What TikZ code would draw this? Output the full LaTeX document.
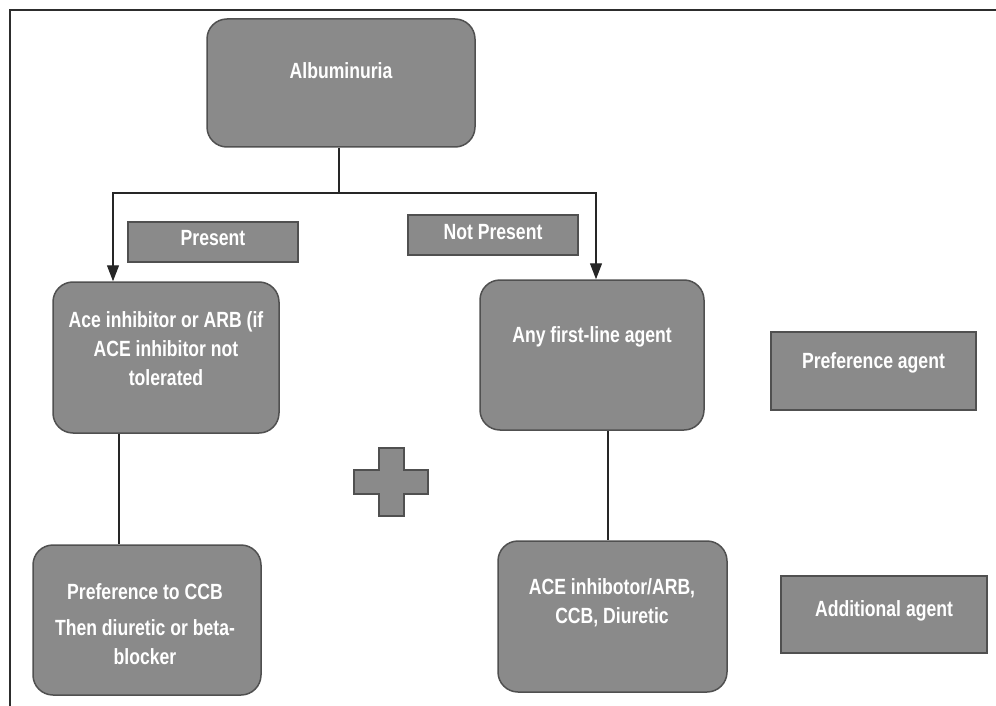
\documentclass[tikz,border=0pt]{standalone}
\usepackage{fontspec}
\setmainfont{Liberation Sans}[FakeStretch=0.8]
\usetikzlibrary{arrows.meta}
\definecolor{boxfill}{RGB}{138,138,138}
\definecolor{boxline}{RGB}{80,80,80}
\definecolor{frameline}{RGB}{45,45,45}
\tikzset{
  rbox/.style={draw=boxline, fill=boxfill, line width=1.5pt, rounded corners=20pt, inner sep=0pt},
  sbox/.style={draw=boxline, fill=boxfill, line width=1.5pt, inner sep=0pt},
  txt/.style={text=white, font=\bfseries\fontsize{22}{29}\selectfont, align=center, inner sep=0pt},
  conn/.style={draw=black!85, line width=1.3pt},
  arr/.style={conn, -{Triangle[length=16pt,width=12pt]}}
}
\begin{document}
\begin{tikzpicture}[x=1pt,y=-1pt]
\useasboundingbox (0,0) rectangle (996,706);
% frame
\draw[frameline, line width=1.6pt] (10,706) -- (10,10) -- (996,10);
% boxes
\node[rbox, minimum width=268pt, minimum height=128pt] (alb) at (341,83) {};
\node[sbox, minimum width=170pt, minimum height=40pt] (pres) at (213,242) {};
\node[sbox, minimum width=170pt, minimum height=40pt] (npres) at (493,235) {};
\node[rbox, minimum width=226pt, minimum height=151pt] (ace) at (166,357.5) {};
\node[rbox, minimum width=224pt, minimum height=150pt] (any) at (592,355) {};
\node[sbox, minimum width=205pt, minimum height=78pt] (prefag) at (873.5,371) {};
\node[rbox, minimum width=228pt, minimum height=150pt] (ccb) at (147,620) {};
\node[rbox, minimum width=229pt, minimum height=151pt] (acearb) at (612.5,616.5) {};
\node[sbox, minimum width=206pt, minimum height=77pt] (addag) at (884,614.5) {};
% plus sign
\draw[boxline, fill=boxfill, line width=1.3pt]
  (379,448) -- (404,448) -- (404,470) -- (428,470) -- (428,494) -- (404,494)
  -- (404,516) -- (379,516) -- (379,494) -- (354,494) -- (354,470) -- (379,470) -- cycle;
% texts
\node[txt] (albt) at (341,71) {Albuminuria};
\node[txt] (prest) at (213,238) {Present};
\node[txt] (npt) at (493,232) {Not Present};
\node[txt] (acet) at (166,349) {Ace inhibitor or ARB (if\\ACE inhibitor not\\tolerated};
\node[txt] (anyt) at (592,337) {Any first-line agent};
\node[txt] (prefagt) at (873.5,363) {Preference agent};
\node[txt] (ccbt) at (145,624) {Preference to CCB\\[7pt]Then diuretic or beta-\\blocker};
\node[txt] (acearbt) at (612,603) {ACE inhibotor/ARB,\\CCB, Diuretic};
\node[txt] (addagt) at (884,611) {Additional agent};
% connectors
\coordinate (j) at (339,193);
\draw[conn] ([xshift=-2pt]alb.south) -- (j);
\draw[arr] (j) -| ([xshift=-53pt]ace.north);
\draw[arr] (j) -| ([xshift=4pt]any.north);
\coordinate (l1) at ([xshift=-47pt]ace.south);
\draw[conn] (l1) -- (l1 |- ccb.north);
\coordinate (r1) at ([xshift=16pt]any.south);
\draw[conn] (r1) -- (r1 |- acearb.north);
\end{tikzpicture}
\end{document}
